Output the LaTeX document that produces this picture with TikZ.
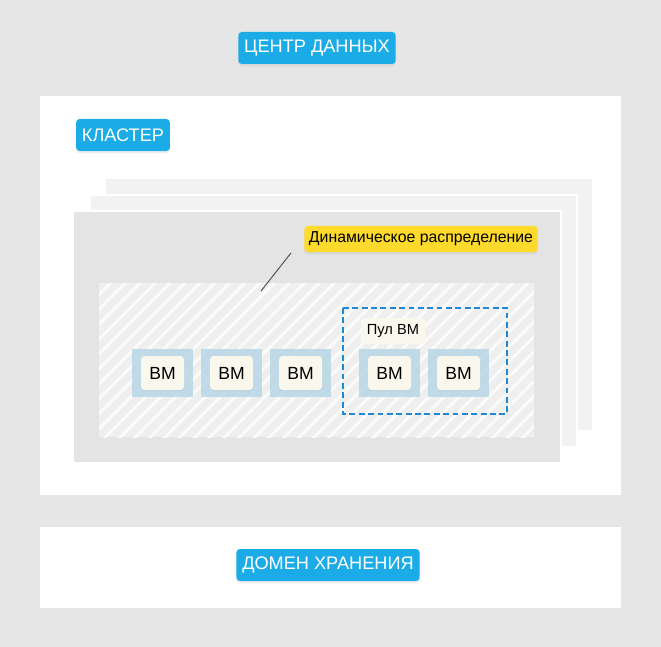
\documentclass[tikz,border=0pt]{standalone}
\usepackage{fontspec}
\setmainfont{Liberation Sans}
\usetikzlibrary{positioning, patterns.meta, shadows}
\definecolor{pagegray}{RGB}{230,230,230}
\definecolor{tagblue}{RGB}{27,172,232}
\definecolor{tagyellow}{RGB}{254,218,44}
\definecolor{vmcream}{RGB}{250,247,236}
\definecolor{vmblue}{RGB}{180,212,230}
\definecolor{clustergray}{RGB}{228,228,228}
\definecolor{sheetgray}{RGB}{242,242,242}
\definecolor{pooldash}{RGB}{30,136,210}
\tikzset{
  tag/.style={fill=tagblue, text=white, rounded corners=3pt, font=\fontsize{15.5}{18}\selectfont, inner xsep=5pt, minimum height=0.96cm, drop shadow={opacity=0.12, shadow xshift=0pt, shadow yshift=-2pt}},
  note/.style={fill=tagyellow, rounded corners=3pt, minimum height=0.78cm, inner xsep=4pt, font=\fontsize{13.5}{16}\selectfont, drop shadow={opacity=0.12, shadow xshift=0pt, shadow yshift=-2pt}},
  tile/.style={fill=vmblue, minimum width=1.83cm, minimum height=1.44cm},
  vm/.style={fill=vmcream, rounded corners=3pt, minimum width=1.29cm, minimum height=1.02cm, font=\fontsize{15}{18}\selectfont, drop shadow={opacity=0.1, shadow xshift=0pt, shadow yshift=-1pt}},
}
\begin{document}
\begin{tikzpicture}[x=0.03cm, y=-0.03cm]
    % page
    \fill[pagegray] (0,0) rectangle (661,647);
    \node[tag] (dc) at (317,48) {ЦЕНТР ДАННЫХ};
    
    % data centre
    \fill[white] (40,96) rectangle (621,495);
    \node[tag] (cluster) at (123,135) {КЛАСТЕР};
    
    % host sheets
    \fill[sheetgray] (106,179) rectangle (592,430);
    \draw[white, line width=1pt, fill=sheetgray] (90,195) rectangle (577,447);
    \draw[white, line width=1pt, fill=clustergray] (73,211) rectangle (561,463);
    
    % hatched area
    \fill[sheetgray!80!clustergray] (99,283) rectangle (534,437);
    \fill[pattern={Lines[angle=45, distance=9pt, line width=2.5pt]}, pattern color=white!70!sheetgray] (99,283) rectangle (534,437);
    \coordinate (tip) at (261,291);
    \node[note] (dyn) at (421,239) {Динамическое распределение};
    \draw[black!70, line width=0.8pt] (tip) -- (291,253);
    
    % pool
    \draw[pooldash, line width=1.3pt, dash pattern=on 5pt off 3pt] (343,308) rectangle (507,414);
    \node[fill=vmcream, rounded corners=3pt, minimum height=0.78cm, inner xsep=5pt, font=\fontsize{12.5}{15}\selectfont] (pool) at (393,331) {Пул ВМ};
    
    % virtual machines
    \foreach \x [count=\i] in {162.5,231.5,300.5,389.5,458.5} {
        \node[tile, opacity=0.8] (t\i) at (\x,373) {};
        \node[vm] (vm\i) at (t\i) {ВМ};
    }
    
    % storage
    \fill[white] (40,527) rectangle (621,608);
    \node[tag] (storage) at (328,565) {ДОМЕН ХРАНЕНИЯ};
\end{tikzpicture}
\end{document}
